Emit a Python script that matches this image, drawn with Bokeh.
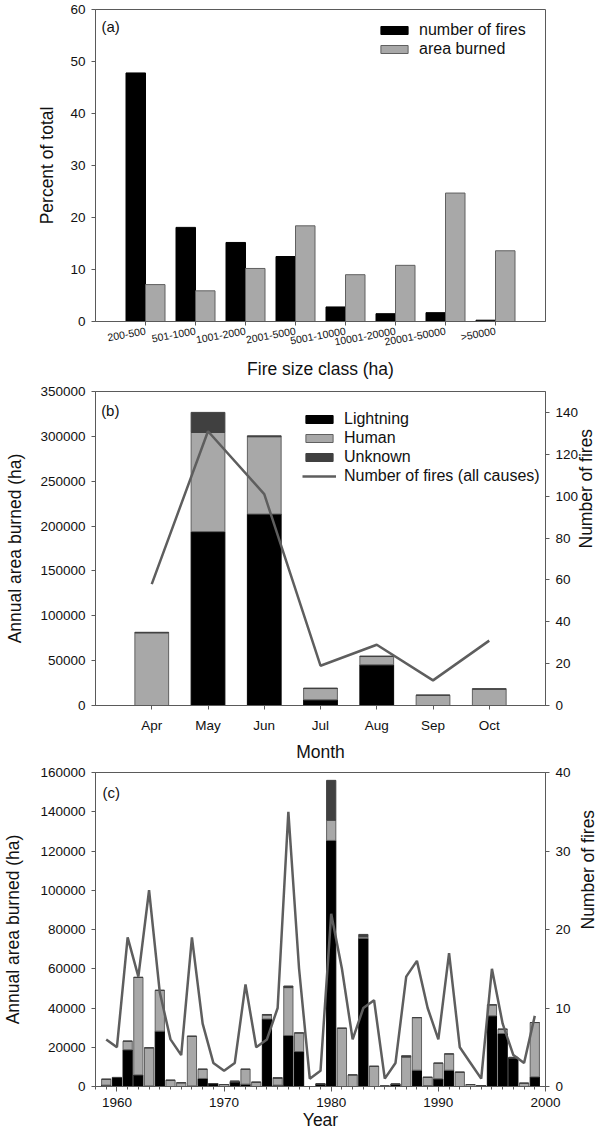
import math
from bokeh.plotting import figure
from bokeh.models import (ColumnDataSource, FactorRange, Range1d, LinearAxis, SingleIntervalTicker,
                          Legend, LegendItem, Label, BasicTickFormatter)
from bokeh.transform import dodge
from bokeh.layouts import column
from bokeh.embed import file_html
from bokeh.resources import INLINE

# ---------------- data ----------------
size_classes = ["200-500", "501-1000", "1001-2000", "2001-5000", "5001-10000",
                "10001-20000", "20001-50000", ">50000"]
pct_number_of_fires = [47.8, 18.1, 15.2, 12.5, 2.8, 1.5, 1.7, 0.25]
pct_area_burned = [7.1, 5.9, 10.2, 18.4, 9.0, 10.8, 24.7, 13.6]

months = ["Apr", "May", "Jun", "Jul", "Aug", "Sep", "Oct"]
month_lightning = [0, 193800, 213400, 6300, 45300, 0, 0]
month_human = [81000, 110600, 86200, 12600, 9300, 11500, 18200]
month_unknown = [600, 22300, 1000, 500, 500, 0, 500]
month_fires = [58, 131, 101, 19, 29, 12, 31]

years = list(range(1959, 2000))
year_lightning = [700, 4600, 18700, 5900, 300, 28200, 0, 0, 300, 4100,
                  1500, 0, 2300, 1200, 0, 34400, 700, 26000, 17800, 0,
                  1400, 125400, 0, 0, 75500, 0, 200, 1200, 0, 8300,
                  500, 3900, 8300, 0, 0, 500, 36000, 27000, 14600, 0,
                  4900]
year_human = [3000, 0, 4400, 49700, 19400, 20800, 3200, 1900, 25300, 4700,
              0, 1000, 400, 7600, 2200, 2000, 3500, 24400, 9500, 0,
              0, 10300, 29700, 5900, 800, 10300, 0, 0, 15000, 26800,
              4200, 8000, 8300, 7300, 1000, 0, 5600, 2200, 0, 1700,
              27700]
year_unknown = [0, 0, 0, 0, 0, 0, 0, 0, 0, 0,
                0, 0, 0, 0, 0, 300, 300, 800, 0, 0,
                0, 20300, 0, 0, 1200, 0, 0, 0, 700, 0,
                0, 0, 0, 0, 0, 0, 0, 0, 300, 0,
                0]
year_fires = [6, 5, 19, 14, 25, 12, 6, 4, 19, 8,
              3, 2, 3, 13, 5, 6, 10, 35, 15, 1,
              2, 22, 15, 6, 10, 11, 1, 3, 14, 16,
              10, 6, 17, 5, 3, 1, 15, 8, 4, 3,
              9]

# ---------------- style ----------------
FONT = "Liberation Sans"
AX = "#5a5a5a"
BLACK = "#000000"
GREY = "#a8a8a8"
GREY_EDGE = "#606060"
DARK = "#404040"
LINE = "#5e5e5e"
TXT = "#111111"
TICK_SIZE = "13.5px"
TITLE_SIZE = "17.5px"


def base_fig(x_range, y_range, top, bottom, right, fh=314):
    p = figure(x_range=x_range, y_range=y_range, frame_width=450, frame_height=fh,
               min_border_left=90, min_border_right=right, min_border_top=top,
               min_border_bottom=bottom, output_backend="svg", toolbar_location=None)
    p.xgrid.visible = False
    p.ygrid.visible = False
    p.outline_line_color = AX
    p.outline_line_width = 1
    p.background_fill_color = "white"
    p.border_fill_color = "white"
    return p


def style_axis(ax, label_standoff=6, title_standoff=10, tick_out=4, label_size=TICK_SIZE):
    ax.axis_line_color = AX
    ax.major_tick_line_color = AX
    ax.minor_tick_line_color = AX
    ax.major_tick_in = 0
    ax.major_tick_out = tick_out
    ax.minor_tick_in = 0
    ax.minor_tick_out = 0
    ax.major_label_text_font = FONT
    ax.major_label_text_font_size = label_size
    ax.major_label_text_color = TXT
    ax.major_label_standoff = label_standoff
    ax.axis_label_text_font = FONT
    ax.axis_label_text_font_size = TITLE_SIZE
    ax.axis_label_text_font_style = "normal"
    ax.axis_label_text_color = TXT
    ax.axis_label_standoff = title_standoff


def make_legend(items, loc, row_h):
    return Legend(items=items, location=loc, glyph_width=34, glyph_height=10,
                  label_standoff=8, label_text_font=FONT, label_text_font_size="16px",
                  label_text_color=TXT, label_height=row_h, spacing=0, padding=0,
                  margin=0, border_line_color=None, background_fill_alpha=0)


# ---------------- panel (a) ----------------
src_a = ColumnDataSource(dict(cls=size_classes, fires=pct_number_of_fires, area=pct_area_burned))
pa = base_fig(FactorRange(factors=size_classes, range_padding=0.5, range_padding_units="absolute"),
              Range1d(0, 60), 9, 51, 51, fh=312)
ra1 = pa.vbar(x=dodge("cls", -0.195, range=pa.x_range), top="fires", width=0.39, source=src_a,
              fill_color=BLACK, line_color=BLACK)
ra2 = pa.vbar(x=dodge("cls", 0.195, range=pa.x_range), top="area", width=0.39, source=src_a,
              fill_color=GREY, line_color=GREY_EDGE)
pa.yaxis.ticker = SingleIntervalTicker(interval=10)
pa.yaxis.axis_label = "Percent of total"
pa.xaxis.axis_label = "Fire size class (ha)"
style_axis(pa.yaxis[0], 6, 10)
style_axis(pa.xaxis[0], 5, 3, 4, "10.5px")
pa.xaxis.major_label_orientation = 0.18
pa.add_layout(make_legend([LegendItem(label="number of fires", renderers=[ra1]),
                           LegendItem(label="area burned", renderers=[ra2])], (282, 263), 19))
pa.add_layout(Label(x=-0.38, y=58.3, text="(a)", text_baseline="top", text_align="left",
                    text_font=FONT, text_font_size="15px", text_color=TXT))

# ---------------- panel (b) ----------------
src_b = ColumnDataSource(dict(month=months, Lightning=month_lightning, Human=month_human,
                              Unknown=month_unknown, fires=month_fires))
pb = base_fig(FactorRange(factors=months, range_padding=0.5, range_padding_units="absolute"),
              Range1d(0, 350000), 9, 56, 56)
rb = pb.vbar_stack(["Lightning", "Human", "Unknown"], x="month", width=0.6, source=src_b,
                   fill_color=[BLACK, GREY, DARK], line_color=[BLACK, GREY_EDGE, DARK])
pb.extra_y_ranges = {"fires": Range1d(0, 150)}
ax_rb = LinearAxis(y_range_name="fires", axis_label="Number of fires",
                   ticker=SingleIntervalTicker(interval=20))
pb.add_layout(ax_rb, "right")
lb = pb.line(x="month", y="fires", source=src_b, y_range_name="fires",
             line_color=LINE, line_width=2.5)
pb.yaxis[0].ticker = SingleIntervalTicker(interval=50000)
pb.yaxis[0].formatter = BasicTickFormatter(use_scientific=False)
pb.yaxis[0].axis_label = "Annual area burned (ha)"
pb.xaxis.axis_label = "Month"
style_axis(pb.yaxis[0], 6, 12)
style_axis(ax_rb, 6, 5)
style_axis(pb.xaxis[0], 8, 6)
ax_rb.axis_label_orientation = math.pi / 2
pb.add_layout(make_legend([LegendItem(label="Lightning", renderers=[rb[0]]),
                           LegendItem(label="Human", renderers=[rb[1]]),
                           LegendItem(label="Unknown", renderers=[rb[2]]),
                           LegendItem(label="Number of fires (all causes)", renderers=[lb])],
                          (207, 220), 19))
pb.add_layout(Label(x=-0.40, y=338800, text="(b)", text_baseline="top", text_align="left",
                    text_font=FONT, text_font_size="15px", text_color=TXT))

# ---------------- panel (c) ----------------
src_c = ColumnDataSource(dict(year=years, Lightning=year_lightning, Human=year_human,
                              Unknown=year_unknown, fires=year_fires))
pc = base_fig(Range1d(1958, 2000), Range1d(0, 160000), 8, 43, 56)
pc.vbar_stack(["Lightning", "Human", "Unknown"], x="year", width=0.86, source=src_c,
              fill_color=[BLACK, GREY, DARK], line_color=[BLACK, GREY_EDGE, DARK])
pc.extra_y_ranges = {"fires": Range1d(0, 40)}
ax_rc = LinearAxis(y_range_name="fires", axis_label="Number of fires",
                   ticker=SingleIntervalTicker(interval=10))
pc.add_layout(ax_rc, "right")
pc.line(x="year", y="fires", source=src_c, y_range_name="fires", line_color=LINE, line_width=2.5)
pc.yaxis[0].ticker = SingleIntervalTicker(interval=20000)
pc.yaxis[0].formatter = BasicTickFormatter(use_scientific=False)
pc.yaxis[0].axis_label = "Annual area burned (ha)"
pc.xaxis.axis_label = "Year"
pc.xaxis.ticker = SingleIntervalTicker(interval=10, num_minor_ticks=10)
style_axis(pc.yaxis[0], 6, 14)
style_axis(ax_rc, 6, 14)
style_axis(pc.xaxis[0], 6, 0, 5)
pc.xaxis.minor_tick_out = 3
ax_rc.axis_label_orientation = math.pi / 2
pc.add_layout(Label(x=1958.65, y=153900, text="(c)", text_baseline="top", text_align="left",
                    text_font=FONT, text_font_size="15px", text_color=TXT))

layout = column(pa, pb, pc, spacing=0)
open("out.html", "w").write(file_html(layout, INLINE))
